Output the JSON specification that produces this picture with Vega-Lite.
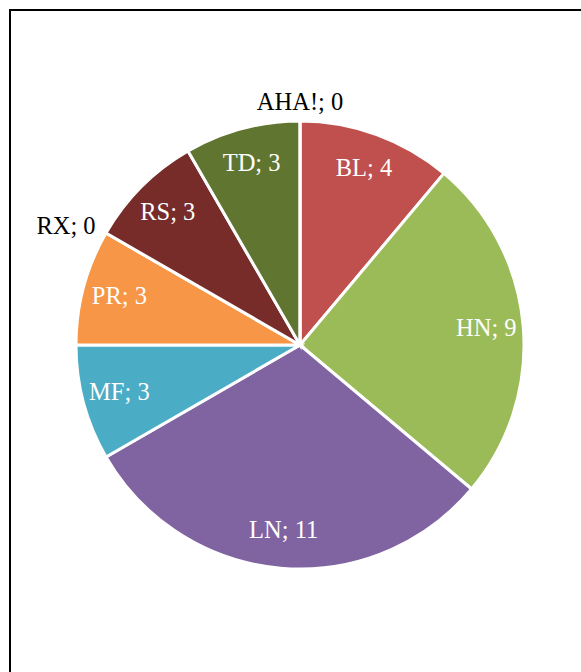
{
  "$schema": "https://vega.github.io/schema/vega-lite/v6.json",
  "autosize": "none",
  "padding": {"left": 10, "top": 10, "right": 0, "bottom": 0},
  "width": 580,
  "height": 670,
  "background": "white",
  "view": {"stroke": "black", "strokeWidth": 2, "fill": "white"},
  "data": {
    "values": [
      {"label": "BL", "value": 4, "order": 1},
      {"label": "HN", "value": 9, "order": 2},
      {"label": "LN", "value": 11, "order": 3},
      {"label": "MF", "value": 3, "order": 4},
      {"label": "PR", "value": 3, "order": 5},
      {"label": "RX", "value": 0, "order": 6},
      {"label": "RS", "value": 3, "order": 7},
      {"label": "TD", "value": 3, "order": 8},
      {"label": "AHA!", "value": 0, "order": 9}
    ]
  },
  "encoding": {
    "theta": {"field": "value", "type": "quantitative", "stack": true},
    "order": {"field": "order", "type": "quantitative"}
  },
  "transform": [{"calculate": "datum.label + '; ' + datum.value", "as": "text"}],
  "layer": [
    {
      "mark": {"type": "arc", "outerRadius": 224, "stroke": "white", "strokeWidth": 3},
      "encoding": {
        "color": {
          "field": "label",
          "type": "nominal",
          "scale": {
            "domain": ["BL", "HN", "LN", "MF", "PR", "RX", "RS", "TD", "AHA!"],
            "range": ["#C0504D", "#9BBB59", "#8064A2", "#4BACC6", "#F79646", "#2C4D75", "#772C2A", "#5F7530", "#4D3B62"]
          },
          "legend": null
        }
      }
    },
    {
      "mark": {"type": "text", "radius": 187, "fill": "white", "font": "Liberation Serif", "fontSize": 24.5, "baseline": "middle", "align": "center"},
      "encoding": {"text": {"condition": {"test": "datum.value > 0", "field": "text"}, "value": ""}}
    },
    {
      "mark": {"type": "text", "radius": 242, "fill": "black", "font": "Liberation Serif", "fontSize": 24.5, "baseline": "middle", "align": "center"},
      "encoding": {"text": {"condition": {"test": "datum.label == 'AHA!'", "field": "text"}, "value": ""}}
    },
    {
      "mark": {"type": "text", "radius": 236, "fill": "black", "font": "Liberation Serif", "fontSize": 24.5, "baseline": "middle", "align": "right"},
      "encoding": {"text": {"condition": {"test": "datum.label == 'RX'", "field": "text"}, "value": ""}}
    }
  ]
}
